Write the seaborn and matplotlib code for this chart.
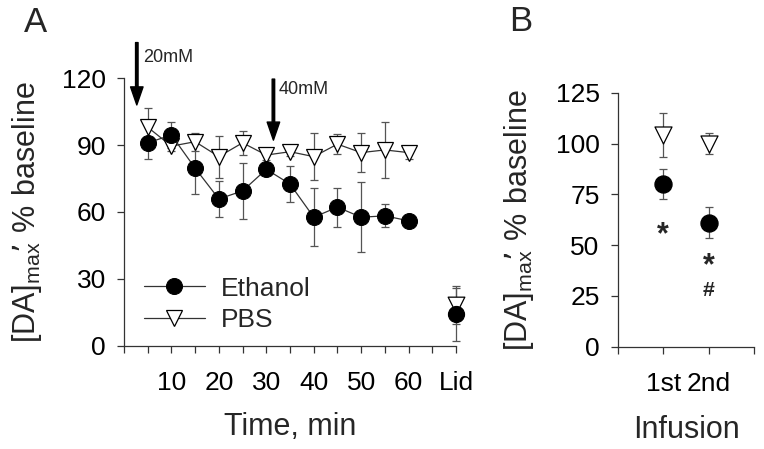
import numpy as np
import pandas as pd
import matplotlib
matplotlib.use("Agg")
import matplotlib.pyplot as plt
import seaborn as sns

# Panel A: time course (mean +/- SEM, % baseline)
time_min = [5, 10, 15, 20, 25, 30, 35, 40, 45, 50, 55, 60]
eth_mean = [91, 94.5, 79.6, 65.8, 69.4, 79.1, 72.5, 57.6, 62.1, 57.6, 58.2, 56]
eth_err = [7.3, 6, 11.6, 7.9, 12.6, 2, 7.9, 13, 8.8, 15.8, 5.2, 1]
pbs_mean = [98, 89.5, 91.5, 84.8, 91, 85.5, 87, 84.8, 90.4, 86.6, 87.8, 86.6]
pbs_err = [8.6, 2, 4, 9.4, 5.5, 2, 2, 10.7, 4.4, 8.9, 12.4, 3]

# lidocaine point, drawn at the "Lid" tick
lid_x = 70
lid_eth, lid_eth_err = 14, 12
lid_pbs, lid_pbs_err = 18.2, 8.4

xtick_pos = list(range(0, 75, 5))
xtick_lab = ["", "", "10", "", "20", "", "30", "", "40", "", "50", "", "60", "", "Lid"]

# Panel B: per infusion
infusion = [1, 2]
infusion_lab = ["", "1st", "2nd", ""]
eth_b = [80.1, 61.0]
eth_b_err = [7.5, 7.6]
pbs_b = [104.3, 100]
pbs_b_err = [10.7, 5]
# significance marks (baseline of the star); 2nd infusion also carries "#"
sig_x = [1, 2]
sig_y = [51.5, 35]
sig_txt = ["$\\mathregular{*}$", "$\\mathregular{\\underset{\\#}{*}}$"]

sns.set_theme(style="ticks")
plt.rcParams["font.family"] = ["Liberation Sans", "DejaVu Sans"]
plt.rcParams["axes.edgecolor"] = "#333333"
plt.rcParams["axes.linewidth"] = 0.9
plt.rcParams["xtick.color"] = "#333333"
plt.rcParams["ytick.color"] = "#333333"
plt.rcParams["xtick.labelcolor"] = "black"
plt.rcParams["ytick.labelcolor"] = "black"

fig = plt.figure(figsize=(7.64, 4.49), dpi=100)
axA = fig.add_axes([0.1623, 0.2305, 0.4346, 0.5953])
axB = fig.add_axes([0.8085, 0.2278, 0.1784, 0.5657])

err_kw = dict(fmt="none", ecolor="#555555", elinewidth=0.9, capsize=3, capthick=0.9,
              zorder=1, clip_on=False)
ylab = "$\\mathregular{[DA]_{max}\\!\\!\u2019\\ \\%\\ baseline}$"

# ---- panel A
axA.errorbar(time_min, eth_mean, yerr=eth_err, **err_kw)
axA.errorbar(time_min, pbs_mean, yerr=pbs_err, **err_kw)
axA.errorbar([lid_x], [lid_eth], yerr=[lid_eth_err], **err_kw)
axA.errorbar([lid_x], [lid_pbs], yerr=[lid_pbs_err], **err_kw)

sns.lineplot(x=time_min, y=pbs_mean, ax=axA, color="#333333", lw=0.9, marker="v",
             markersize=12, markerfacecolor="white", markeredgecolor="black",
             markeredgewidth=0.9, label="PBS", zorder=3)
sns.lineplot(x=time_min, y=eth_mean, ax=axA, color="#333333", lw=0.9, marker="o",
             markersize=11.5, markerfacecolor="black", markeredgecolor="black",
             label="Ethanol", zorder=4)
sns.scatterplot(x=[lid_x], y=[lid_pbs], ax=axA, marker="v", s=144, color="white",
                edgecolor="black", linewidth=0.9, zorder=3, clip_on=False)
sns.scatterplot(x=[lid_x], y=[lid_eth], ax=axA, marker="o", s=132, color="black",
                edgecolor="black", zorder=4, clip_on=False)

axA.set_xlim(0, 70)
axA.set_ylim(0, 120)
axA.set_xticks(xtick_pos)
axA.set_xticklabels(xtick_lab)
axA.set_yticks([0, 30, 60, 90, 120])
axA.tick_params(axis="x", length=5, width=0.9, pad=13, labelsize=19)
axA.tick_params(axis="y", length=5, width=0.9, pad=8, labelsize=19)
axA.set_xlabel("Time, min", fontsize=22)
axA.set_ylabel(ylab, fontsize=22)
axA.xaxis.set_label_coords(0.5, -0.25)
axA.yaxis.set_label_coords(-0.24, 0.5)
sns.despine(ax=axA)

h, l = axA.get_legend_handles_labels()
order = [l.index("Ethanol"), l.index("PBS")]
axA.legend([h[i] for i in order], [l[i] for i in order], loc="upper left",
           bbox_to_anchor=(0.06, 0.258), frameon=False, fontsize=19,
           handlelength=2.3, handletextpad=0.6, labelspacing=0.3,
           borderpad=0, borderaxespad=0)

arrow_kw = dict(facecolor="black", edgecolor="black", width=1.8, headwidth=9, headlength=13, shrink=0)
axA.annotate("", xy=(2.7, 108), xytext=(2.7, 136), arrowprops=arrow_kw, annotation_clip=False)
axA.annotate("", xy=(31.5, 92.2), xytext=(31.5, 119.6), arrowprops=arrow_kw, annotation_clip=False)
axA.text(4.1, 129.5, "20mM", fontsize=13, va="center", ha="left", clip_on=False)
axA.text(32.5, 115, "40mM", fontsize=13, va="center", ha="left", clip_on=False)

# ---- panel B
axB.errorbar(infusion, pbs_b, yerr=pbs_b_err, **err_kw)
axB.errorbar(infusion, eth_b, yerr=eth_b_err, **err_kw)
sns.scatterplot(x=infusion, y=pbs_b, ax=axB, marker="v", s=150, color="white",
                edgecolor="black", linewidth=0.9, zorder=3)
sns.scatterplot(x=infusion, y=eth_b, ax=axB, marker="o", s=150, color="black",
                edgecolor="black", zorder=4)
for x, y, t in zip(sig_x, sig_y, sig_txt):
    axB.text(x, y, t, fontsize=22, fontweight="bold", ha="center", va="baseline")

axB.set_xlim(0, 3)
axB.set_ylim(0, 125)
axB.set_xticks([0, 1, 2, 3])
axB.set_xticklabels(infusion_lab)
axB.set_yticks([0, 25, 50, 75, 100, 125])
axB.tick_params(axis="x", length=5, width=0.9, pad=13, labelsize=19)
axB.tick_params(axis="y", length=5, width=0.9, pad=8, labelsize=19)
axB.set_xlabel("Infusion", fontsize=22)
axB.set_ylabel(ylab, fontsize=22)
axB.xaxis.set_label_coords(0.508, -0.27)
axB.yaxis.set_label_coords(-0.6, 0.5)
sns.despine(ax=axB)

fig.text(0.047, 0.949, "A", fontsize=25, ha="center", va="center")
fig.text(0.681, 0.953, "B", fontsize=25, ha="center", va="center")

fig.savefig("out.png", dpi=100)
